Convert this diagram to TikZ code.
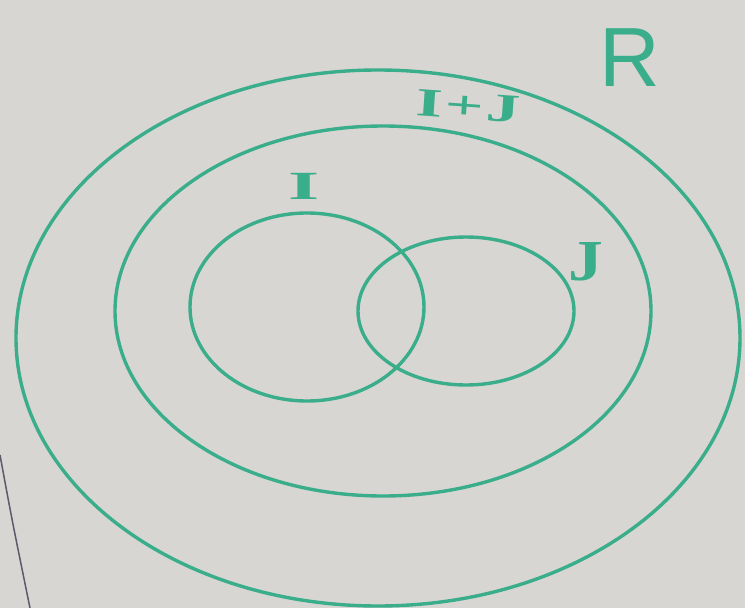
\documentclass[tikz,border=0pt]{standalone}
\usepackage{fontspec}
\setmainfont{Liberation Sans}
\newfontfamily\handserif{Liberation Serif}
\definecolor{board}{HTML}{D8D6D3}
\definecolor{pen}{HTML}{3AAD8A}
\definecolor{edge}{HTML}{5A5A6A}
\begin{document}
\begin{tikzpicture}[x=1pt,y=-1pt,
  penline/.style={draw=pen,line width=3.4pt},
  lbl/.style={text=pen,inner sep=0pt}]
\fill[board] (0,0) rectangle (745,608);
\useasboundingbox (0,0) rectangle (745,608);
% board edge
\draw[edge,line width=1.5pt] (0,455) .. controls (12,520) .. (30,608);
% ellipses
\draw[penline] (378,338) ellipse [x radius=362, y radius=268];
\draw[penline] (383,311) ellipse [x radius=268, y radius=185];
\draw[penline] (307,307) ellipse [x radius=117, y radius=94];
\draw[penline] (466,311) ellipse [x radius=108, y radius=74];
% labels
\node[lbl,font=\fontsize{84}{84}\selectfont] (R) at (630,58) {R};
\node[lbl,font=\handserif\bfseries\fontsize{40}{40}\selectfont] (I) at (304,186) {\scalebox{2.0}[1]{I}};
\node[lbl,font=\handserif\bfseries\fontsize{40}{40}\selectfont,rotate=-4] (IJ) at (468,106) {\scalebox{1.7}[1]{I\kern2pt+\kern1ptJ}};
\node[lbl,font=\handserif\bfseries\fontsize{58}{58}\selectfont] (J) at (586,262) {\scalebox{1.2}[1]{J}};
\end{tikzpicture}
\end{document}
